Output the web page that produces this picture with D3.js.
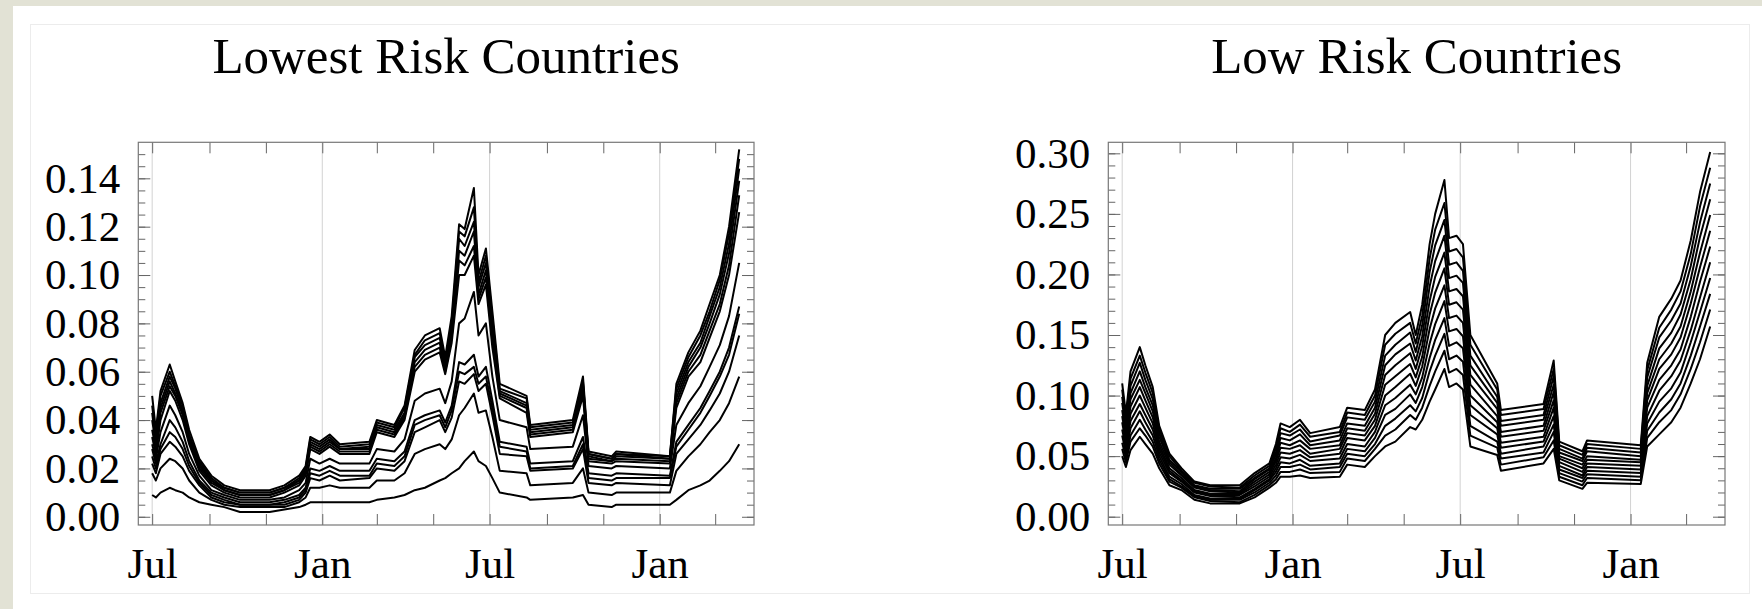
<!DOCTYPE html>
<html><head><meta charset="utf-8">
<script src="https://cdn.jsdelivr.net/npm/d3@7"></script>
<style>
html,body{margin:0;padding:0;background:#fff;}
svg{display:block;}
</style></head><body>
<svg id="c" width="1762" height="609"></svg>
<script>
// ---------- data ----------
const dates = ["2010-07-01","2010-07-05","2010-07-10","2010-07-20","2010-07-26","2010-08-03","2010-08-10","2010-08-21","2010-09-03","2010-09-17",
"2010-10-04","2010-11-05","2010-11-21","2010-12-07","2010-12-14","2010-12-19","2010-12-29","2011-01-09","2011-01-20","2011-02-21",
"2011-03-01","2011-03-20","2011-03-31","2011-04-11","2011-04-22","2011-05-08","2011-05-14","2011-05-21","2011-05-29","2011-06-04",
"2011-06-14","2011-06-19","2011-06-27","2011-07-04","2011-07-12","2011-08-10","2011-08-14","2011-09-29","2011-10-10","2011-10-16",
"2011-11-10","2011-11-15","2012-01-12","2012-01-19","2012-02-01","2012-02-14","2012-02-24","2012-03-06","2012-03-16","2012-03-27"];

const lowest1 = [0.050,0.036,0.052,0.063,0.056,0.047,0.036,0.024,0.017,0.013,0.011,0.011,0.013,0.017,0.021,0.033,0.031,0.034,0.030,0.031,0.040,0.038,0.046,0.069,0.075,0.078,0.066,0.083,0.121,0.119,0.136,0.100,0.111,0.085,0.055,0.050,0.038,0.040,0.058,0.027,0.025,0.027,0.025,0.055,0.068,0.077,0.088,0.100,0.120,0.152];
const lowest2 = [0.046,0.034,0.050,0.060,0.054,0.046,0.034,0.023,0.016,0.012,0.010,0.010,0.012,0.016,0.020,0.032,0.030,0.033,0.029,0.030,0.039,0.037,0.045,0.067,0.073,0.076,0.064,0.080,0.118,0.116,0.128,0.097,0.108,0.082,0.053,0.049,0.037,0.039,0.056,0.026,0.024,0.026,0.025,0.053,0.066,0.075,0.085,0.098,0.117,0.148];
const lowest3 = [0.043,0.031,0.047,0.058,0.053,0.044,0.033,0.022,0.015,0.012,0.010,0.010,0.012,0.015,0.019,0.031,0.029,0.032,0.028,0.029,0.038,0.036,0.043,0.066,0.071,0.074,0.063,0.078,0.115,0.112,0.122,0.095,0.105,0.079,0.052,0.047,0.036,0.038,0.055,0.026,0.024,0.026,0.024,0.051,0.064,0.072,0.083,0.095,0.113,0.144];
const lowest4 = [0.040,0.030,0.045,0.056,0.051,0.043,0.032,0.021,0.015,0.011,0.009,0.009,0.011,0.015,0.019,0.030,0.028,0.031,0.028,0.028,0.037,0.035,0.042,0.064,0.069,0.072,0.062,0.076,0.110,0.108,0.118,0.092,0.102,0.076,0.051,0.046,0.035,0.037,0.053,0.025,0.023,0.025,0.024,0.049,0.062,0.070,0.080,0.092,0.109,0.139];
const lowest5 = [0.036,0.028,0.043,0.054,0.050,0.042,0.031,0.020,0.014,0.011,0.009,0.009,0.011,0.014,0.018,0.029,0.027,0.030,0.027,0.027,0.036,0.034,0.041,0.062,0.067,0.070,0.060,0.074,0.106,0.104,0.112,0.090,0.099,0.073,0.050,0.045,0.034,0.036,0.052,0.024,0.023,0.024,0.023,0.047,0.060,0.067,0.077,0.088,0.104,0.133];
const lowest6 = [0.033,0.026,0.040,0.052,0.048,0.040,0.030,0.019,0.013,0.010,0.008,0.008,0.010,0.013,0.017,0.028,0.026,0.029,0.026,0.026,0.035,0.033,0.040,0.060,0.065,0.068,0.059,0.072,0.100,0.100,0.108,0.088,0.096,0.070,0.049,0.043,0.033,0.035,0.050,0.023,0.022,0.023,0.022,0.045,0.058,0.064,0.074,0.085,0.100,0.126];
const lowest7 = [0.030,0.024,0.035,0.046,0.042,0.035,0.026,0.017,0.011,0.009,0.007,0.007,0.008,0.011,0.014,0.024,0.022,0.024,0.022,0.022,0.028,0.027,0.032,0.048,0.051,0.053,0.047,0.056,0.080,0.082,0.093,0.075,0.080,0.058,0.040,0.037,0.028,0.029,0.042,0.021,0.020,0.021,0.020,0.038,0.047,0.054,0.062,0.071,0.083,0.105];
const lowest8 = [0.028,0.022,0.030,0.040,0.037,0.031,0.023,0.015,0.010,0.008,0.006,0.006,0.007,0.009,0.012,0.020,0.019,0.021,0.019,0.019,0.024,0.023,0.027,0.040,0.042,0.044,0.039,0.046,0.064,0.063,0.067,0.058,0.062,0.048,0.031,0.029,0.022,0.023,0.033,0.018,0.017,0.018,0.017,0.031,0.038,0.045,0.052,0.060,0.070,0.087];
const lowest9 = [0.025,0.020,0.028,0.035,0.033,0.028,0.021,0.014,0.009,0.007,0.005,0.005,0.006,0.008,0.011,0.018,0.017,0.019,0.017,0.017,0.022,0.021,0.025,0.038,0.040,0.042,0.037,0.044,0.060,0.059,0.062,0.055,0.058,0.045,0.029,0.027,0.020,0.021,0.030,0.016,0.015,0.016,0.016,0.029,0.036,0.043,0.050,0.058,0.067,0.084];
const lowest10 = [0.022,0.018,0.026,0.031,0.029,0.025,0.019,0.013,0.008,0.006,0.005,0.005,0.005,0.007,0.010,0.016,0.015,0.017,0.015,0.016,0.020,0.019,0.023,0.035,0.037,0.040,0.035,0.041,0.056,0.055,0.059,0.052,0.055,0.042,0.026,0.025,0.019,0.020,0.028,0.014,0.013,0.014,0.013,0.026,0.032,0.038,0.044,0.051,0.060,0.075];
const lowest11 = [0.018,0.015,0.020,0.024,0.023,0.020,0.015,0.010,0.007,0.005,0.004,0.004,0.004,0.006,0.008,0.012,0.012,0.013,0.012,0.012,0.015,0.015,0.018,0.026,0.028,0.030,0.028,0.032,0.042,0.045,0.051,0.043,0.044,0.033,0.019,0.018,0.013,0.014,0.020,0.010,0.009,0.010,0.010,0.019,0.025,0.030,0.035,0.040,0.047,0.058];
const lowest12 = [0.009,0.008,0.010,0.012,0.011,0.010,0.008,0.006,0.005,0.004,0.002,0.002,0.003,0.004,0.005,0.006,0.006,0.006,0.006,0.006,0.007,0.008,0.009,0.011,0.012,0.015,0.016,0.018,0.020,0.023,0.027,0.023,0.021,0.016,0.010,0.008,0.007,0.008,0.009,0.005,0.004,0.005,0.005,0.007,0.011,0.013,0.015,0.019,0.023,0.030];

const low1 = [0.110,0.085,0.120,0.140,0.125,0.107,0.075,0.052,0.040,0.029,0.026,0.026,0.036,0.044,0.060,0.077,0.074,0.080,0.069,0.074,0.090,0.088,0.105,0.150,0.160,0.169,0.150,0.175,0.225,0.250,0.278,0.230,0.232,0.225,0.150,0.110,0.088,0.093,0.129,0.062,0.054,0.063,0.059,0.127,0.165,0.180,0.195,0.228,0.268,0.301];
const low2 = [0.105,0.081,0.114,0.133,0.119,0.102,0.072,0.050,0.038,0.028,0.025,0.024,0.034,0.042,0.057,0.073,0.070,0.076,0.066,0.070,0.086,0.084,0.100,0.142,0.151,0.160,0.143,0.166,0.213,0.237,0.259,0.219,0.221,0.214,0.142,0.105,0.084,0.089,0.122,0.059,0.051,0.060,0.056,0.121,0.156,0.171,0.186,0.217,0.256,0.288];
const low3 = [0.099,0.077,0.108,0.127,0.113,0.097,0.069,0.047,0.037,0.026,0.023,0.023,0.032,0.040,0.054,0.069,0.067,0.072,0.062,0.067,0.082,0.080,0.095,0.133,0.142,0.152,0.136,0.158,0.202,0.224,0.245,0.208,0.210,0.203,0.133,0.099,0.079,0.084,0.116,0.056,0.048,0.057,0.053,0.115,0.148,0.162,0.176,0.207,0.243,0.275];
const low4 = [0.094,0.073,0.102,0.120,0.107,0.092,0.066,0.045,0.035,0.025,0.022,0.021,0.031,0.039,0.051,0.065,0.063,0.068,0.059,0.063,0.077,0.075,0.090,0.125,0.134,0.143,0.129,0.149,0.190,0.211,0.232,0.197,0.199,0.193,0.125,0.094,0.075,0.080,0.109,0.053,0.046,0.054,0.050,0.108,0.139,0.152,0.167,0.196,0.231,0.262];
const low5 = [0.088,0.069,0.097,0.113,0.102,0.087,0.062,0.043,0.034,0.024,0.021,0.020,0.029,0.037,0.048,0.061,0.059,0.063,0.056,0.059,0.073,0.071,0.085,0.117,0.125,0.135,0.122,0.141,0.178,0.198,0.218,0.186,0.188,0.182,0.117,0.089,0.070,0.075,0.103,0.050,0.043,0.050,0.047,0.102,0.130,0.143,0.157,0.186,0.218,0.249];
const low6 = [0.083,0.065,0.091,0.107,0.096,0.082,0.059,0.040,0.032,0.022,0.019,0.019,0.027,0.035,0.046,0.057,0.056,0.059,0.052,0.056,0.069,0.067,0.080,0.109,0.116,0.126,0.115,0.132,0.167,0.185,0.205,0.175,0.177,0.171,0.109,0.083,0.066,0.071,0.096,0.048,0.040,0.047,0.045,0.096,0.122,0.134,0.148,0.176,0.206,0.236];
const low7 = [0.078,0.061,0.085,0.100,0.090,0.077,0.056,0.038,0.030,0.021,0.018,0.018,0.025,0.033,0.043,0.053,0.052,0.055,0.049,0.052,0.065,0.063,0.075,0.100,0.107,0.118,0.108,0.124,0.155,0.172,0.191,0.164,0.166,0.160,0.100,0.078,0.061,0.066,0.090,0.045,0.037,0.044,0.042,0.090,0.113,0.125,0.138,0.165,0.194,0.223];
const low8 = [0.072,0.057,0.079,0.093,0.084,0.072,0.053,0.036,0.029,0.020,0.017,0.016,0.023,0.031,0.040,0.049,0.048,0.051,0.046,0.048,0.060,0.058,0.070,0.092,0.098,0.109,0.101,0.115,0.143,0.159,0.178,0.153,0.155,0.149,0.092,0.073,0.057,0.062,0.083,0.042,0.034,0.041,0.039,0.083,0.104,0.116,0.129,0.154,0.181,0.210];
const low9 = [0.067,0.053,0.073,0.087,0.078,0.067,0.050,0.033,0.027,0.018,0.015,0.015,0.022,0.030,0.037,0.045,0.044,0.047,0.042,0.044,0.056,0.054,0.065,0.084,0.089,0.101,0.094,0.107,0.131,0.146,0.164,0.141,0.144,0.139,0.084,0.068,0.052,0.058,0.076,0.039,0.032,0.038,0.036,0.077,0.095,0.106,0.119,0.144,0.169,0.197];
const low10 = [0.061,0.049,0.067,0.080,0.072,0.062,0.047,0.031,0.025,0.017,0.014,0.014,0.020,0.028,0.034,0.041,0.041,0.043,0.039,0.041,0.052,0.050,0.060,0.075,0.081,0.092,0.087,0.098,0.120,0.133,0.151,0.130,0.133,0.128,0.075,0.062,0.048,0.053,0.070,0.036,0.029,0.035,0.033,0.071,0.086,0.097,0.110,0.133,0.157,0.184];
const low11 = [0.056,0.045,0.062,0.073,0.067,0.058,0.044,0.029,0.024,0.016,0.013,0.012,0.018,0.026,0.031,0.037,0.037,0.039,0.036,0.037,0.048,0.046,0.056,0.067,0.072,0.084,0.080,0.090,0.108,0.120,0.137,0.119,0.122,0.117,0.067,0.057,0.043,0.049,0.063,0.033,0.026,0.032,0.030,0.065,0.078,0.088,0.101,0.122,0.144,0.171];
const low12 = [0.050,0.041,0.055,0.066,0.060,0.052,0.040,0.026,0.022,0.014,0.011,0.011,0.016,0.024,0.028,0.033,0.033,0.034,0.032,0.033,0.043,0.041,0.050,0.058,0.062,0.074,0.072,0.080,0.095,0.105,0.122,0.107,0.110,0.105,0.058,0.051,0.038,0.044,0.056,0.030,0.023,0.028,0.027,0.058,0.068,0.078,0.090,0.110,0.130,0.157];

const titles = ["Lowest Risk Countries", "Low Risk Countries"];
const lowestYTicks = [0.00,0.02,0.04,0.06,0.08,0.10,0.12,0.14];
const lowYTicks = [0.00,0.05,0.10,0.15,0.20,0.25,0.30];
const xLabelDates = ["2010-07-01","2011-01-01","2011-07-01","2012-01-01"];
const xLabels = ["Jul","Jan","Jul","Jan"];
const xTickDates = ["2010-07-01","2010-09-01","2010-11-01","2011-01-01","2011-03-01","2011-05-01","2011-07-01","2011-09-01","2011-11-01","2012-01-01","2012-03-01"];
const xDomain = ["2010-06-16","2012-04-12"];

// ---------- drawing ----------
const W = 1762, H = 609;
const FONT = "'Liberation Serif','Times New Roman',Times,serif";
const parse = d3.timeParse("%Y-%m-%d");
const svg = d3.select("#c");

svg.append("rect").attr("width", W).attr("height", H).attr("fill", "#e2e2d5");
svg.append("rect").attr("x", 13).attr("y", 6).attr("width", W - 13).attr("height", H - 6).attr("fill", "#ffffff");
svg.append("rect").attr("x", 30.5).attr("y", 24.5).attr("width", 1719).attr("height", 569)
  .attr("fill", "none").attr("stroke", "#ececec");

const panels = [
  { title: titles[0], series: [lowest1,lowest2,lowest3,lowest4,lowest5,lowest6,lowest7,lowest8,lowest9,lowest10,lowest11,lowest12],
    ticks: lowestYTicks, minorStep: 0.005, left: 138.3, right: 754, yDomain: [-0.0034, 0.1549] },
  { title: titles[1], series: [low1,low2,low3,low4,low5,low6,low7,low8,low9,low10,low11,low12],
    ticks: lowYTicks, minorStep: 0.01, left: 1108.3, right: 1725, yDomain: [-0.00685, 0.3091] }
];
const plotTop = 142.3, plotBottom = 525;

panels.forEach(p => {
  const x = d3.scaleTime().domain(xDomain.map(parse)).range([p.left, p.right]);
  const y = d3.scaleLinear().domain(p.yDomain).range([plotBottom, plotTop]);
  const g = svg.append("g");

  g.selectAll("line.grid").data(xLabelDates.map(parse)).join("line")
    .attr("class", "grid")
    .attr("x1", d => x(d)).attr("x2", d => x(d))
    .attr("y1", plotTop).attr("y2", plotBottom)
    .attr("stroke", "#d2d2d2").attr("stroke-width", 1);

  const line = d3.line().x((d, i) => x(parse(dates[i]))).y(d => y(d));
  g.selectAll("path.s").data(p.series).join("path")
    .attr("class", "s")
    .attr("d", d => line(d))
    .attr("fill", "none").attr("stroke", "#000").attr("stroke-width", 2)
    .attr("stroke-linejoin", "round");

  const maxV = p.yDomain[1];
  const minor = d3.range(0, Math.round(maxV / p.minorStep) + 1).map(k => +(k * p.minorStep).toFixed(4)).filter(v => v <= maxV);

  const style = sel => {
    sel.select(".domain").remove();
    sel.selectAll(".tick line").attr("stroke", "#666");
    sel.attr("font-family", FONT).attr("font-size", 43);
    sel.selectAll("text").attr("fill", "#000");
  };

  g.append("g").attr("transform", `translate(0,${plotBottom})`)
    .call(d3.axisBottom(x).tickValues(xTickDates.map(parse)).tickSize(-11).tickFormat("")).call(style);
  g.append("g").attr("transform", `translate(0,${plotTop})`)
    .call(d3.axisTop(x).tickValues(xTickDates.map(parse)).tickSize(-11).tickFormat("")).call(style);
  g.append("g").attr("transform", `translate(0,${plotBottom})`)
    .call(d3.axisBottom(x).tickValues(xLabelDates.map(parse)).tickSize(0).tickPadding(22)
      .tickFormat((d, i) => xLabels[i])).call(style);

  g.append("g").attr("transform", `translate(${p.left},0)`)
    .call(d3.axisLeft(y).tickValues(minor).tickSize(-7).tickFormat("")).call(style);
  g.append("g").attr("transform", `translate(${p.left},0)`)
    .call(d3.axisLeft(y).tickValues(p.ticks).tickSize(-12).tickPadding(18).tickFormat(d3.format(".2f"))).call(style);
  g.append("g").attr("transform", `translate(${p.right},0)`)
    .call(d3.axisRight(y).tickValues(minor).tickSize(-7).tickFormat("")).call(style);
  g.append("g").attr("transform", `translate(${p.right},0)`)
    .call(d3.axisRight(y).tickValues(p.ticks).tickSize(-12).tickFormat("")).call(style);

  g.append("rect").attr("x", p.left).attr("y", plotTop).attr("width", p.right - p.left).attr("height", plotBottom - plotTop)
    .attr("fill", "none").attr("stroke", "#777").attr("stroke-width", 1.2);

  g.append("text").attr("x", (p.left + p.right) / 2).attr("y", 73)
    .attr("text-anchor", "middle").attr("font-family", FONT).attr("font-size", 51)
    .attr("fill", "#000").text(p.title);
});
</script>
</body></html>
